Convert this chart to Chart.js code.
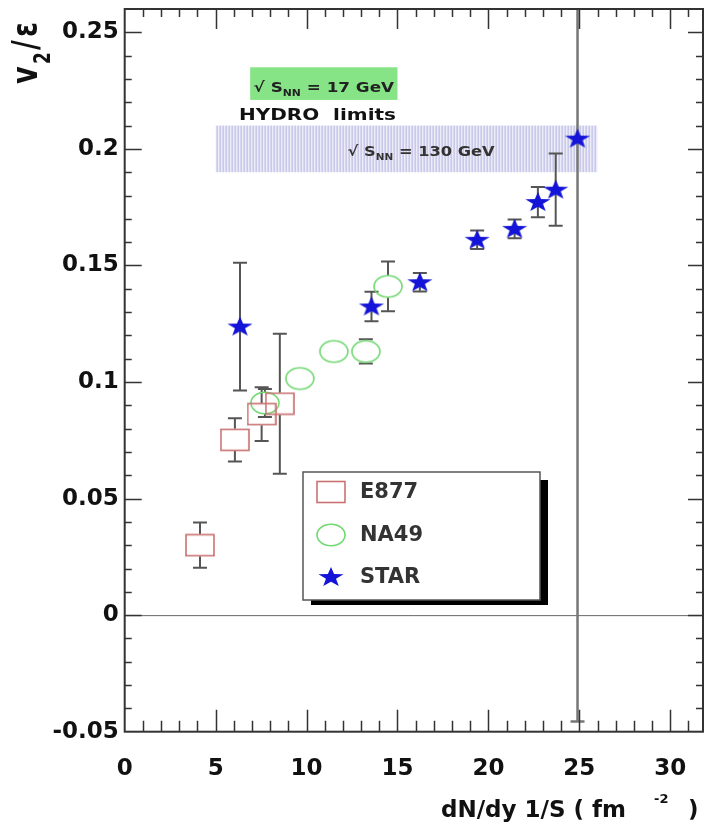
<!DOCTYPE html>
<html>
<head>
<meta charset="utf-8">
<script src="https://cdn.jsdelivr.net/npm/chart.js@4.4.1/dist/chart.umd.min.js"></script>
<style>
  html, body { margin: 0; padding: 0; background: #fff; }
  canvas { display: block; }
</style>
</head>
<body>
<canvas id="v2chart" width="708" height="828"></canvas>
<script>
// values
const e877X = [4.14, 6.06, 7.53, 8.53];
const e877Y = [0.030, 0.0752, 0.0862, 0.0907];
const e877Err = [0.0097, 0.0093, 0.0115, 0.030];

const na49X = [7.71, 9.63, 11.5, 13.26, 14.48];
const na49Y = [0.091, 0.1015, 0.1131, 0.1131, 0.141];
const na49Err = [0.006, 0, 0, 0.0052, 0.0107];

const starX = [6.34, 13.57, 16.23, 19.38, 21.44, 22.72, 23.7, 24.9];
const starY = [0.1238, 0.1324, 0.1428, 0.161, 0.1657, 0.1772, 0.1825, 0.2044];
const starErr = [0.0274, 0.0063, 0.004, 0.004, 0.004, 0.0065, 0.0155, 0.25];

// hydro limit bands
const hydro17X = [6.9, 15.0];
const hydro17Y = [0.221, 0.235];
const hydro130X = [5.0, 26.0];
const hydro130Y = [0.19, 0.21];

const xTicks = [0, 5, 10, 15, 20, 25, 30];
const yTicks = [-0.05, 0, 0.05, 0.1, 0.15, 0.2, 0.25];
const yTickLabels = ['-0.05', '0', '0.05', '0.1', '0.15', '0.2', '0.25'];

const FONT = '"DejaVu Sans", sans-serif';

// marker images (the original is a bit stretched sideways)
function makeMarker(kind) {
  const c = document.createElement('canvas');
  const g = c.getContext('2d');
  if (kind === 'square') {
    c.width = 30; c.height = 24;
    g.strokeStyle = '#c97272'; g.lineWidth = 1.6;
    g.strokeRect(1, 1.5, 28, 21);
  } else if (kind === 'circle') {
    c.width = 32; c.height = 26;
    g.strokeStyle = '#72d872'; g.lineWidth = 1.6;
    g.beginPath(); g.ellipse(16, 13, 14, 10.8, 0, 0, Math.PI * 2); g.stroke();
  } else {
    c.width = 28; c.height = 22;
    g.fillStyle = '#1414d8';
    g.beginPath();
    for (let i = 0; i < 10; i++) {
      const a = -Math.PI / 2 + i * Math.PI / 5;
      const r = i % 2 ? 4.4 : 11;
      const px = 14 + Math.cos(a) * r * 1.2, py = 11.5 + Math.sin(a) * r * 0.95;
      i ? g.lineTo(px, py) : g.moveTo(px, py);
    }
    g.closePath(); g.fill();
  }
  return c;
}
const squareMk = makeMarker('square');
const circleMk = makeMarker('circle');
const starMk = makeMarker('star');

function drawRich(ctx, parts, x, y, sx, align) {
  ctx.save();
  const widths = parts.map(p => { ctx.font = 'bold ' + p[1] + 'px ' + FONT; return ctx.measureText(p[0]).width; });
  const total = widths.reduce((a, b) => a + b, 0) * sx;
  const start = align === 'center' ? x - total / 2 : align === 'right' ? x - total : x;
  ctx.translate(start, y);
  ctx.scale(sx, 1);
  let cx = 0;
  parts.forEach((p, i) => {
    ctx.font = 'bold ' + p[1] + 'px ' + FONT;
    ctx.fillText(p[0], cx, p[2] || 0);
    cx += widths[i];
  });
  ctx.restore();
}

const backdrop = {
  id: 'backdrop',
  beforeDatasetsDraw(chart) {
    const { ctx, chartArea: a, scales: { x, y } } = chart;
    ctx.save();
    ctx.beginPath(); ctx.rect(a.left, a.top, a.width, a.height); ctx.clip();

    // 130 GeV band, hatched
    let x0 = x.getPixelForValue(hydro130X[0]), x1 = x.getPixelForValue(hydro130X[1]);
    let y0 = y.getPixelForValue(hydro130Y[1]), y1 = y.getPixelForValue(hydro130Y[0]);
    ctx.fillStyle = '#ececf8';
    ctx.fillRect(x0, y0, x1 - x0, y1 - y0);
    ctx.strokeStyle = '#b4b4e0'; ctx.lineWidth = 1;
    for (let px = x0 + 1; px < x1; px += 3) {
      ctx.beginPath(); ctx.moveTo(px + 0.5, y0); ctx.lineTo(px + 0.5, y1); ctx.stroke();
    }

    // 17 GeV box
    x0 = x.getPixelForValue(hydro17X[0]); x1 = x.getPixelForValue(hydro17X[1]);
    y0 = y.getPixelForValue(hydro17Y[1]); y1 = y.getPixelForValue(hydro17Y[0]);
    ctx.fillStyle = '#86e486';
    ctx.fillRect(x0, y0, x1 - x0, y1 - y0);

    ctx.fillStyle = '#222';
    drawRich(ctx, [['\u221A S', 14], ['NN', 9, 4], [' = 17 GeV', 14]],
      x.getPixelForValue((hydro17X[0] + hydro17X[1]) / 2), y.getPixelForValue(0.2245), 1.2, 'center');
    ctx.fillStyle = '#111';
    drawRich(ctx, [['HYDRO  limits', 16]], x.getPixelForValue(10.6), y.getPixelForValue(0.2122), 1.25, 'center');
    ctx.fillStyle = '#333';
    drawRich(ctx, [['\u221A S', 14], ['NN', 9, 4], [' = 130 GeV', 14]],
      x.getPixelForValue(16.3), y.getPixelForValue(0.197), 1.16, 'center');

    // zero line
    const zy = y.getPixelForValue(0);
    ctx.strokeStyle = '#666'; ctx.lineWidth = 1;
    ctx.beginPath(); ctx.moveTo(a.left, zy + 0.5); ctx.lineTo(a.right, zy + 0.5); ctx.stroke();

    // error bars
    chart.data.datasets.forEach(ds => {
      ds.data.forEach((p, i) => {
        const e = ds.errors[i];
        if (!e) return;
        const big = e > 0.1;
        ctx.strokeStyle = big ? '#777' : '#555';
        ctx.lineWidth = big ? 2.5 : 2;
        const px = x.getPixelForValue(p.x), py = y.getPixelForValue(p.y);
        const top = y.getPixelForValue(p.y + e), bot = y.getPixelForValue(p.y - e);
        ctx.beginPath();
        if (py - top > ds.gap) { ctx.moveTo(px, top); ctx.lineTo(px, py - ds.gap); }
        if (bot - py > ds.gap) { ctx.moveTo(px, py + ds.gap); ctx.lineTo(px, bot); }
        ctx.moveTo(px - 7, top); ctx.lineTo(px + 7, top);
        ctx.moveTo(px - 7, bot); ctx.lineTo(px + 7, bot);
        ctx.stroke();
      });
    });
    ctx.restore();
  }
};

const frame = {
  id: 'frame',
  afterDatasetsDraw(chart) {
    const { ctx, chartArea: a, scales: { x, y } } = chart;
    ctx.save();
    ctx.strokeStyle = '#333'; ctx.lineWidth = 1.5;
    ctx.beginPath();
    for (let v = 1; v <= 31; v++) {
      const px = Math.round(x.getPixelForValue(v)) + 0.5;
      const major = v % 5 === 0;
      ctx.moveTo(px, a.bottom); ctx.lineTo(px, a.bottom - (major ? 22 : 11));
      ctx.moveTo(px, a.top); ctx.lineTo(px, a.top + (major ? 20 : 8));
    }
    for (let k = -4; k <= 25; k++) {
      const py = Math.round(y.getPixelForValue(k / 100)) + 0.5;
      const major = k % 5 === 0;
      ctx.moveTo(a.left, py); ctx.lineTo(a.left + (major ? 17 : 7), py);
      ctx.moveTo(a.right, py); ctx.lineTo(a.right - (major ? 15 : 7), py);
    }
    ctx.stroke();
    ctx.lineWidth = 2;
    ctx.strokeRect(a.left, a.top, a.width, a.height);
    ctx.restore();
  },
  afterDraw(chart) {
    const ctx = chart.ctx;
    ctx.save();
    // legend box with drop shadow
    ctx.fillStyle = '#000';
    ctx.fillRect(311, 480, 237, 125);
    ctx.fillStyle = '#fff';
    ctx.fillRect(303, 472, 237, 128);
    ctx.strokeStyle = '#555'; ctx.lineWidth = 1.5;
    ctx.strokeRect(303, 472, 237, 128);
    const items = [[squareMk, 'E877', 492], [circleMk, 'NA49', 535], [starMk, 'STAR', 577]];
    ctx.fillStyle = '#333';
    ctx.font = 'bold 21px ' + FONT;
    ctx.textBaseline = 'middle';
    items.forEach(([mk, txt, cy]) => {
      ctx.drawImage(mk, 331 - mk.width / 2, cy - mk.height / 2);
      ctx.fillText(txt, 360, cy + 1);
    });
    ctx.textBaseline = 'alphabetic';

    // x title
    ctx.fillStyle = '#111';
    ctx.font = 'bold 23px ' + FONT;
    ctx.fillText('dN/dy 1/S ( fm', 441, 817);
    ctx.font = 'bold 13px ' + FONT;
    ctx.fillText('-2', 654, 803);
    ctx.font = 'bold 23px ' + FONT;
    ctx.fillText(')', 688, 817);

    // y title v2/eps, rotated and a bit stretched
    ctx.translate(37, 84);
    ctx.rotate(-Math.PI / 2);
    ctx.scale(1, 1.3);
    ctx.font = 'bold 27px ' + FONT;
    ctx.fillText('v', 0, 0);
    ctx.font = 'bold 17px ' + FONT;
    ctx.fillText('2', 20, 10);
    ctx.font = 'bold 27px ' + FONT;
    ctx.fillText('/', 34, 0);
    ctx.fillText('\u03B5', 47, 0);
    ctx.restore();
  }
};

const tickFont = { family: FONT, size: 23, weight: 'bold' };

new Chart(document.getElementById('v2chart'), {
  type: 'scatter',
  data: {
    datasets: [
      { label: 'E877', data: e877X.map((v, i) => ({ x: v, y: e877Y[i] })), errors: e877Err, gap: 11,
        pointStyle: squareMk, pointRadius: 12 },
      { label: 'NA49', data: na49X.map((v, i) => ({ x: v, y: na49Y[i] })), errors: na49Err, gap: 11,
        pointStyle: circleMk, pointRadius: 12 },
      { label: 'STAR', data: starX.map((v, i) => ({ x: v, y: starY[i] })), errors: starErr, gap: 0,
        pointStyle: starMk, pointRadius: 12 }
    ]
  },
  options: {
    responsive: false,
    animation: false,
    events: [],
    layout: { autoPadding: false, padding: { top: 9, right: 5, left: 0, bottom: 0 } },
    plugins: { legend: { display: false }, tooltip: { enabled: false } },
    scales: {
      x: {
        type: 'linear', min: 0, max: 31.8,
        grid: { display: false, drawTicks: false },
        border: { display: false },
        afterBuildTicks: s => { s.ticks = xTicks.map(v => ({ value: v })); },
        afterFit: s => { s.height = 96.3; s.paddingLeft = 0; s.paddingRight = 0; },
        ticks: { font: tickFont, color: '#111', padding: 24, maxRotation: 0, autoSkip: false }
      },
      y: {
        type: 'linear', min: -0.05, max: 0.26,
        grid: { display: false, drawTicks: false },
        border: { display: false },
        afterBuildTicks: s => { s.ticks = yTicks.map(v => ({ value: v })); },
        afterFit: s => { s.width = 124.7; s.paddingTop = 0; s.paddingBottom = 0; },
        ticks: { font: tickFont, color: '#111', padding: 6, autoSkip: false,
                 callback: (v, i) => yTickLabels[i] }
      }
    }
  },
  plugins: [backdrop, frame]
});
</script>
</body>
</html>
